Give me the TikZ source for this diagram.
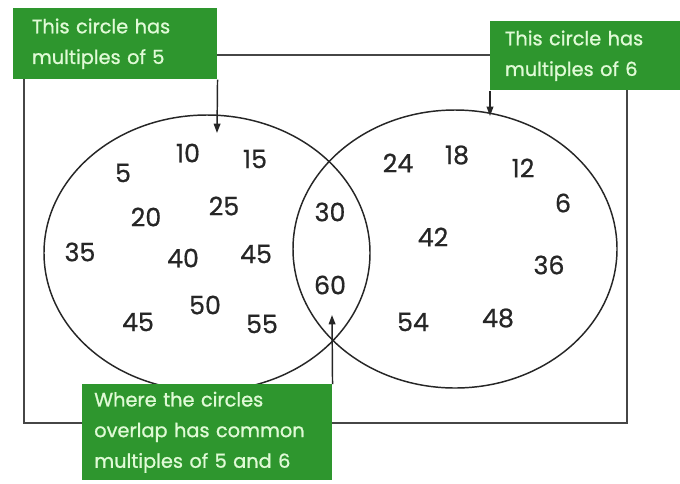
\documentclass[tikz,border=0pt]{standalone}
\usepackage{fontspec}
\setmainfont{Poppins}
\newfontfamily\notefont[FakeBold=1]{Poppins}
\newfontfamily\numfont[FakeBold=0.6]{Poppins}
\usetikzlibrary{positioning,arrows.meta,shapes.geometric}
\definecolor{notegreen}{RGB}{46,150,46}
\definecolor{notetext}{RGB}{224,250,214}
\definecolor{framegray}{RGB}{70,70,70}

\tikzset{
  note/.style={rectangle,fill=notegreen,text=notetext,anchor=north west,
               inner ysep=0pt,align=left,font=\notefont\fontsize{14.5}{23}\selectfont},
  num/.style={font=\numfont\fontsize{19}{19}\selectfont,text=black!85},
  setring/.style={ellipse,draw=black!85,line width=1.1pt,inner sep=0pt},
  pointer/.style={-{Triangle[width=5pt,length=7pt]},line width=1.1pt,black!85}
}

\begin{document}
\begin{tikzpicture}[x=0.75pt,y=-0.75pt]
\fill[white] (0,0) rectangle (680,483);
\useasboundingbox (0,0) rectangle (680,483);
% outer frame
\draw[framegray,line width=1.8pt] (24,55) rectangle (627,423);
% the two sets
\node[setring,minimum width=244.5pt,minimum height=207pt] (fives) at (207,253) {};
\node[setring,minimum width=243pt,minimum height=208.5pt] (sixes) at (455,249) {};
% numbers
\foreach \v/\x/\y [count=\i] in {5/123/173,10/188/153,15/255/159,20/146/217,
    25/224/206,35/80/252,40/183/258,45/256/254,50/205/305,45/138/322,55/262/324,
    30/330/212,60/330/285,
    24/398/163,18/457/155,12/523/168,6/563/203,42/433/237,36/549/265,
    54/413/322,48/498/318} {
  \node[num] (n\i) at (\x,\y) {\v};
}
% labels
\node[note,inner xsep=14pt,text width=125pt,minimum height=53.25pt] (box5) at (13,8)
  {This circle has\\multiples of 5};
\node[note,inner xsep=11pt,text width=120.5pt,minimum height=51.75pt] (box6) at (490,21)
  {This circle has\\multiples of 6};
\node[note,inner xsep=9pt,text width=169.5pt,minimum height=72pt] (box56) at (82,384)
  {Where the circles\\overlap has common\\multiples of 5 and 6};
% pointers
\coordinate (tip5) at (217,133);
\coordinate (tip6) at (490,116);
\coordinate (tip56) at (332,315);
\draw[pointer] (box5.south east) -- (tip5);
\draw[pointer] (box6.south west) -- (tip6);
\draw[pointer] (box56.north east) -- (tip56);
\end{tikzpicture}
\end{document}
